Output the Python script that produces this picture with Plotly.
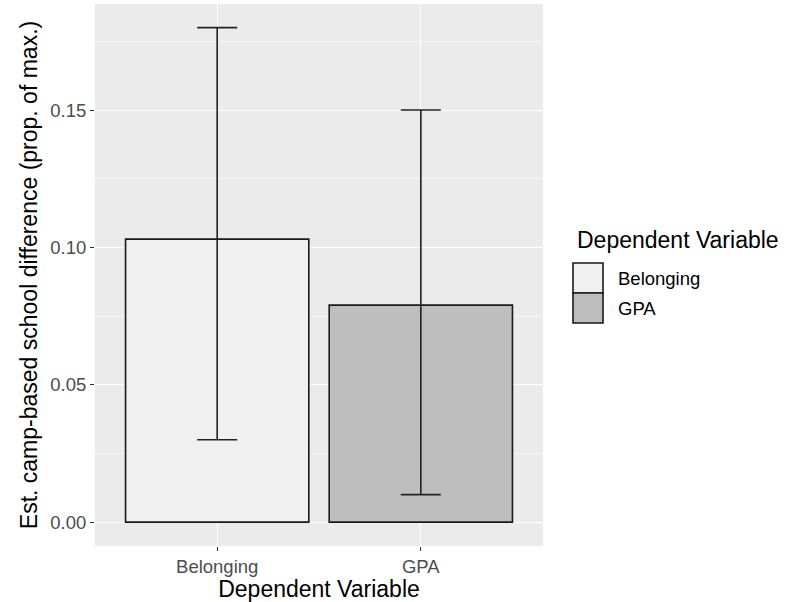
import plotly.graph_objects as go

categories = ["Belonging", "GPA"]
estimates = [0.103, 0.079]
ci_low = [0.030, 0.010]
ci_high = [0.180, 0.150]
fill_colors = ["#F0F0F0", "#BEBEBE"]
y_ticks = [0.00, 0.05, 0.10, 0.15]

err_plus = [h - e for h, e in zip(ci_high, estimates)]
err_minus = [e - l for e, l in zip(estimates, ci_low)]

fig = go.Figure()
fig.add_trace(go.Bar(
    x=categories, y=estimates,
    marker=dict(color=fill_colors, line=dict(color="#1a1a1a", width=1.6)),
    error_y=dict(type="data", symmetric=False, array=err_plus, arrayminus=err_minus,
                 color="#222222", thickness=1.6, width=20),
    showlegend=False, hoverinfo="skip",
))

FONT = "Liberation Sans, Arial, sans-serif"
ML, MR, MT, MB = 95, 251, 4, 56
W, H = 794, 602

fig.update_layout(
    width=W, height=H,
    margin=dict(l=ML, r=MR, t=MT, b=MB),
    paper_bgcolor="white", plot_bgcolor="#EBEBEB",
    bargap=0.1,
    font=dict(family=FONT, color="#000000"),
    xaxis=dict(
        type="category", range=[-0.6, 1.6],
        showgrid=True, gridcolor="white", gridwidth=1.2,
        ticks="outside", ticklen=4, tickcolor="#333333", tickwidth=1.1,
        tickfont=dict(size=18.5, color="#4D4D4D"),
        title=dict(text="Dependent Variable", font=dict(size=23, color="#000000"), standoff=6),
        zeroline=False, showline=False,
    ),
    yaxis=dict(
        range=[-0.0087, 0.1886],
        tickvals=y_ticks, tickformat=".2f",
        showgrid=True, gridcolor="white", gridwidth=1.2,
        minor=dict(showgrid=True, gridcolor="#F7F7F7", gridwidth=0.6,
                   tickvals=[0.025, 0.075, 0.125, 0.175]),
        ticks="outside", ticklen=4, tickcolor="#333333", tickwidth=1.1,
        tickfont=dict(size=18.5, color="#4D4D4D"),
        title=dict(text="Est. camp-based school difference (prop. of max.)",
                   font=dict(size=23, color="#000000"), standoff=6),
        zeroline=False, showline=False,
    ),
)

# Custom ggplot-style legend (pixel positions converted to paper coords)
PW = W - ML - MR
PH = H - MT - MB

def px(x):
    return (x - ML) / PW

def py(y):
    return (H - MB - y) / PH

leg_x0 = 573
key_w = 30
key_h = 30
key_y0 = 263

fig.add_annotation(x=px(leg_x0 + 2), y=py(240), xref="paper", yref="paper",
                   text="Dependent Variable", showarrow=False, xanchor="left", yanchor="middle",
                   font=dict(size=23, color="#000000", family=FONT))
for i, (cat, col) in enumerate(zip(categories, fill_colors)):
    top = key_y0 + i * key_h
    fig.add_shape(type="rect", xref="paper", yref="paper",
                  x0=px(leg_x0), x1=px(leg_x0 + key_w), y0=py(top), y1=py(top + key_h),
                  fillcolor=col, line=dict(color="#1a1a1a", width=1.6))
    fig.add_annotation(x=px(leg_x0 + key_w + 13), y=py(top + key_h / 2), xref="paper", yref="paper",
                       text=cat, showarrow=False, xanchor="left", yanchor="middle",
                       font=dict(size=18.5, color="#000000", family=FONT))

fig.write_html("out.html")
